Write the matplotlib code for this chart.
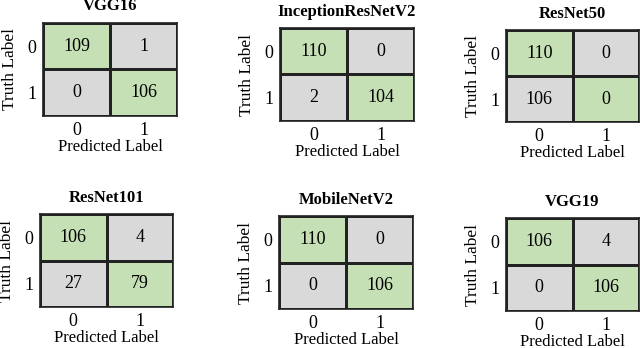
import numpy as np
import matplotlib.pyplot as plt
from matplotlib.colors import ListedColormap

plt.rcParams['font.family'] = ['Liberation Serif', 'DejaVu Serif']

models = ['VGG16', 'InceptionResNetV2', 'ResNet50', 'ResNet101', 'MobileNetV2', 'VGG19']
vgg16 = [[109, 1], [0, 106]]
inception = [[110, 0], [2, 104]]
resnet50 = [[110, 0], [106, 0]]
resnet101 = [[106, 4], [27, 79]]
mobilenet = [[110, 0], [0, 106]]
vgg19 = [[106, 4], [0, 106]]
matrices = [vgg16, inception, resnet50, resnet101, mobilenet, vgg19]
class_labels = ['0', '1']

# box positions in pixels: left, top, right, bottom
boxes = [(43, 23, 177, 116), (280, 28, 414, 121), (506, 30, 639, 122),
         (40, 214, 173, 307), (279, 216, 413, 309), (506, 218, 639, 311)]

W, H = 640, 348
fig = plt.figure(figsize=(W / 100, H / 100), dpi=100)
cmap = ListedColormap(['#d9d9d9', '#c5e0b4'])

for name, cm, (l, t, r, b) in zip(models, matrices, boxes):
    ax = fig.add_axes([l / W, 1 - b / H, (r - l) / W, (b - t) / H])
    bw, bh = r - l, b - t
    cm = np.array(cm)
    mask = np.eye(2)
    ax.pcolormesh(mask, cmap=cmap, vmin=0, vmax=1, edgecolors='#222222', linewidth=1.0)
    ax.set_xlim(0, 2)
    ax.set_ylim(2, 0)
    for i in range(2):
        for j in range(2):
            ax.text(j + 0.5, i + 0.5, str(cm[i, j]), ha='center', va='center', fontsize=13)
    ax.set_xticks([0.5, 1.5])
    ax.set_yticks([0.5, 1.5])
    ax.set_xticklabels(class_labels, fontsize=13)
    ax.set_yticklabels(class_labels, fontsize=13)
    ax.tick_params(axis='x', length=0, pad=4)
    ax.tick_params(axis='y', length=0, pad=5)
    ax.set_xlabel('Predicted Label', fontsize=12)
    ax.set_ylabel('Truth Label', fontsize=12.5)
    ax.xaxis.label.set_va('center')
    ax.xaxis.set_label_coords(0.5, -31 / bh)
    ax.yaxis.label.set_va('center')
    ax.yaxis.set_label_coords(-33 / bw, 0.5)
    ax.set_title(name, fontsize=12, fontweight='bold', pad=9)
    for s in ax.spines.values():
        s.set_linewidth(1.2)
        s.set_color('#222222')

fig.savefig('out.png', dpi=100)
